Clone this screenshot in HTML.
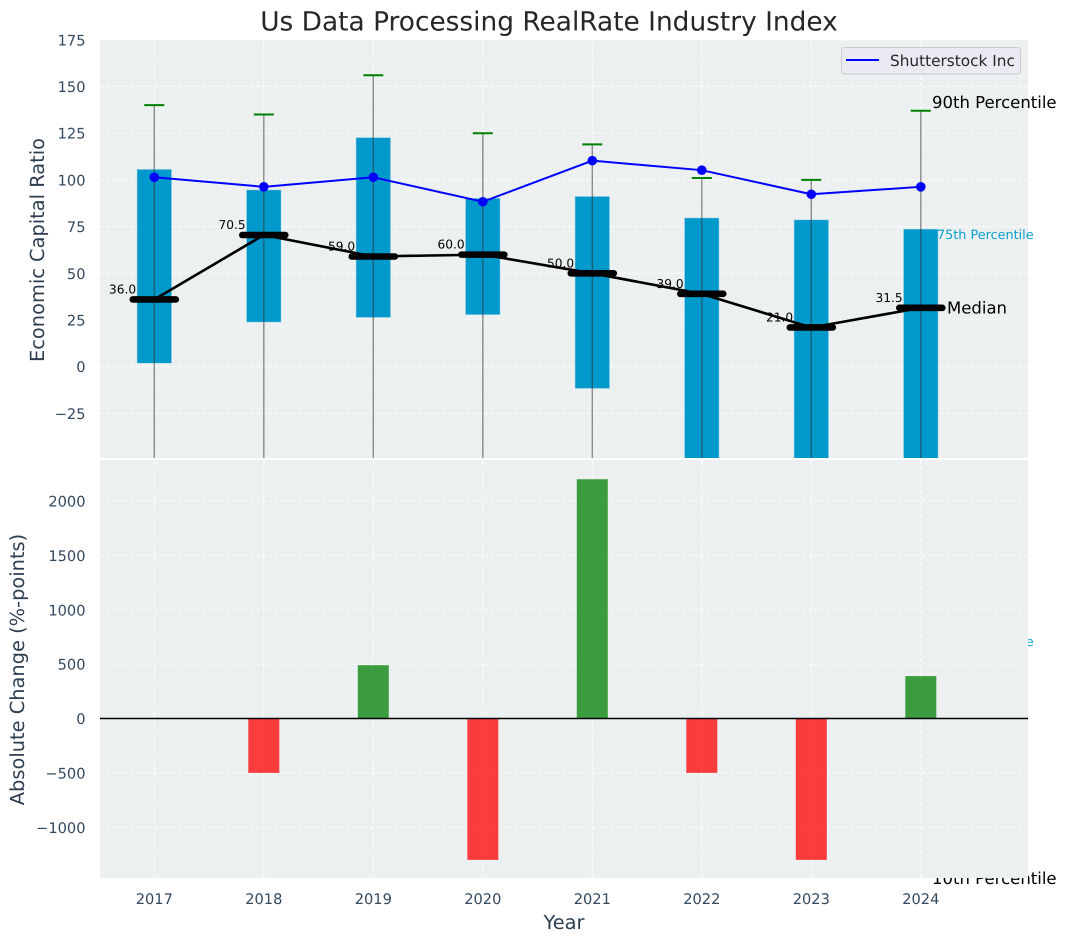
<!DOCTYPE html>
<html>
<head>
<meta charset="utf-8">
<style>
html,body{margin:0;padding:0;background:#fff;}
svg{display:block;font-family:"DejaVu Sans","Liberation Sans",sans-serif;text-rendering:geometricPrecision;}
.tick{font-size:14.6px;fill:#34495e;}
.axt{font-size:19.4px;fill:#2c3e50;}
</style>
</head>
<body>
<svg id="chart" xmlns="http://www.w3.org/2000/svg" width="1067" height="942" viewBox="0 0 1067 942">
<defs>
<clipPath id="clip-top"><rect x="100" y="40" width="928" height="418"/></clipPath>
<clipPath id="clip-bottom"><rect x="100" y="460" width="928" height="418"/></clipPath>
</defs>
<rect x="100" y="40" width="928" height="418" fill="#ecf0f1"/>
<text x="937" y="646" font-size="12.8" fill="#0a9fd0">25th Percentile</text>
<text x="932" y="884" font-size="16.5" fill="#000">10th Percentile</text>
<rect x="100" y="460" width="928" height="418" fill="#ecf0f1"/>
<g id="grid-top"></g>
<g id="grid-bottom"></g>
<g id="marks-top" clip-path="url(#clip-top)"></g>
<g id="marks-bottom" clip-path="url(#clip-bottom)"></g>
<g id="ticks"></g>
<text x="549" y="30.5" text-anchor="middle" font-size="26.4" fill="#262626">Us Data Processing RealRate Industry Index</text>
<text class="axt" transform="translate(44,250) rotate(-90)" text-anchor="middle">Economic Capital Ratio</text>
<text class="axt" transform="translate(24,669.5) rotate(-90)" text-anchor="middle">Absolute Change (%-points)</text>
<text class="axt" x="564" y="929" text-anchor="middle">Year</text>
<text x="932" y="108" font-size="16.5" fill="#000">90th Percentile</text>
<text x="937" y="239" font-size="12.8" fill="#0a9fd0">75th Percentile</text>
<text x="947" y="313.5" font-size="16.5" fill="#000">Median</text>
<g>
<rect x="841.5" y="47.5" width="179" height="26.5" rx="3" fill="#eaeaf2" stroke="#cccccc" stroke-width="1"/>
<line x1="846" y1="60" x2="879" y2="60" stroke="#0000ff" stroke-width="2"/>
<text x="890" y="66" font-size="15.3" fill="#262626">Shutterstock Inc</text>
</g>
</svg>
<script>
const years = [2017, 2018, 2019, 2020, 2021, 2022, 2023, 2024];
const q3 = [105.5, 94.5, 122.5, 90, 91, 79.5, 78.5, 73.5];
const q1 = [2, 24, 26.5, 28, -11.5, -60, -60, -60];
const p90 = [140, 135, 156, 125, 119, 101, 100, 137];
const p10 = [-70, -70, -70, -70, -70, -80, -80, -80];
const median = [36, 70.5, 59, 60, 50, 39, 21, 31.5];
const company = [101.4, 96.3, 101.4, 88.3, 110.3, 105.2, 92.3, 96.3];
const change = [0, -500, 490, -1300, 2200, -500, -1300, 390];
const topTicks = [175, 150, 125, 100, 75, 50, 25, 0, -25];
const bottomTicks = [2000, 1500, 1000, 500, 0, -500, -1000];

const NS = 'http://www.w3.org/2000/svg';
function xPos(year) { return 154.3 + (year - 2017) * 109.5; }
function yTop(v) { return 366.7 - v * 1.868; }
function yBottom(v) { return 718.5 - v * 0.10875; }
function make(tag, parent, props, text) {
  const el = document.createElementNS(NS, tag);
  for (const k in props) el.setAttribute(k, props[k]);
  if (text !== undefined) el.textContent = text;
  parent.appendChild(el);
  return el;
}
function label(v) { return String(v).replace('-', '\u2212'); }

const gridTop = document.getElementById('grid-top');
const gridBottom = document.getElementById('grid-bottom');
const marksTop = document.getElementById('marks-top');
const marksBottom = document.getElementById('marks-bottom');
const ticks = document.getElementById('ticks');
const dash = { stroke: '#ffffff', 'stroke-width': 1, 'stroke-dasharray': '4 2', 'stroke-opacity': 0.85 };

topTicks.forEach(function (t) {
  const g = make('line', gridTop, Object.assign({ x1: 100, x2: 1028, y1: yTop(t), y2: yTop(t) }, dash));
  
  
  const l = make('text', ticks, { class: 'tick', x: 85.5, y: yTop(t) + 5.5, 'text-anchor': 'end' }, label(t));
  
  
});
bottomTicks.forEach(function (t) {
  const g = make('line', gridBottom, Object.assign({ x1: 100, x2: 1028, y1: yBottom(t), y2: yBottom(t) }, dash));
  
  
  const l = make('text', ticks, { class: 'tick', x: 85.5, y: yBottom(t) + 5.5, 'text-anchor': 'end' }, label(t));
  
  
});
years.forEach(function (yr) {
  const x = xPos(yr);
  const a = make('line', gridTop, Object.assign({ x1: x, x2: x, y1: 40, y2: 458 }, dash));
  
  
  const b = make('line', gridBottom, Object.assign({ x1: x, x2: x, y1: 460, y2: 878 }, dash));
  
  
  const l = make('text', ticks, { class: 'tick', x: x, y: 904, 'text-anchor': 'middle' }, String(yr));
  
  
});

years.forEach(function (yr, i) {
  const x = xPos(yr);
  const box = make('rect', marksTop, { x: x - 17, width: 34, y: yTop(q3[i]), height: yTop(q1[i]) - yTop(q3[i]), fill: '#0099cc', stroke: '#0099cc', 'stroke-opacity': 0.3, 'stroke-width': 1 });
  
  
  const w = make('line', marksTop, { x1: x, x2: x, y1: yTop(p90[i]), y2: yTop(p10[i]), stroke: '#333333', 'stroke-opacity': 0.55, 'stroke-width': 1.4 });
  
  
  const c = make('line', marksTop, { x1: x - 10, x2: x + 10, y1: yTop(p90[i]), y2: yTop(p90[i]), stroke: '#008000', 'stroke-width': 2 });
  
  
});

const medianLine = make('polyline', marksTop, { fill: 'none', stroke: '#000', 'stroke-width': 2.6, points: years.map(function (yr, i) { return xPos(yr) + ',' + yTop(median[i]); }).join(' ') });


const companyLine = make('polyline', marksTop, { fill: 'none', stroke: '#0000ff', 'stroke-width': 2, points: years.map(function (yr, i) { return xPos(yr) + ',' + yTop(company[i]); }).join(' ') });



years.forEach(function (yr, i) {
  const x = xPos(yr);
  const m = make('line', marksTop, { x1: x - 21.5, x2: x + 21.5, y1: yTop(median[i]), y2: yTop(median[i]), stroke: '#000', 'stroke-width': 6.6, 'stroke-linecap': 'round' });
  
  
  const d = make('circle', marksTop, { cx: x, cy: yTop(company[i]), r: 4.8, fill: '#0000ff' });
  
  
  const t = make('text', marksTop, { x: x - 18.2, y: yTop(median[i]) - 6, 'text-anchor': 'end', 'font-size': 12.2, fill: '#000' }, median[i].toFixed(1));
  
  

  if (change[i] !== 0) {
    const top = Math.min(yBottom(change[i]), yBottom(0));
    const h = Math.abs(yBottom(change[i]) - yBottom(0));
    const b = make('rect', marksBottom, { x: x - 15.5, width: 31, y: top, height: h, fill: change[i] > 0 ? '#008000' : '#ff0000', 'fill-opacity': 0.75 });
    
    
  }
});
const zero = make('line', marksBottom, { x1: 100, x2: 1028, y1: yBottom(0), y2: yBottom(0), stroke: '#000', 'stroke-width': 1.4 });


</script>
</body>
</html>
